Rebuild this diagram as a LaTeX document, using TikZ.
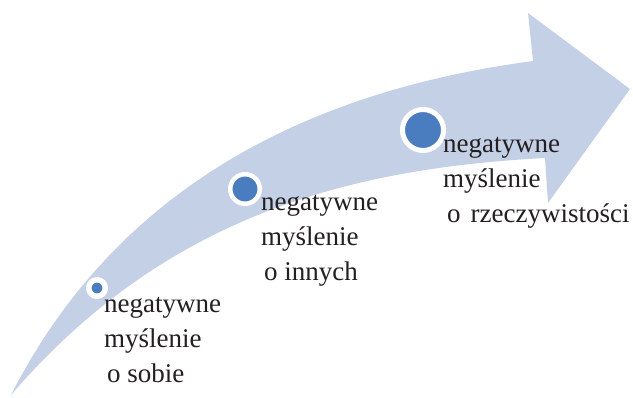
\documentclass[tikz,border=0pt]{standalone}
\usepackage{fontspec}
\setmainfont{Liberation Serif}
\definecolor{band}{HTML}{C4D0E6}
\definecolor{dotblue}{HTML}{4A7DBF}
\definecolor{ink}{HTML}{231F20}
\newcommand\threelines[3]{\vtop{\baselineskip=35pt\hbox{#1}\hbox{#2}\hbox{#3}}}
\begin{document}
\begin{tikzpicture}[x=1pt,y=-1pt,
  ringdot/.style={circle,draw=white,fill=dotblue,inner sep=0pt},
  lbl/.style={anchor=base west,inner sep=0pt,text=ink,font=\fontsize{27}{35}\selectfont}]
\useasboundingbox (0,0) rectangle (633,397);
\fill[band] (11,395) .. controls (90,240) and (240,100) .. (533,61)
  -- (528,13) -- (630,89) -- (548,203) -- (545,158)
  .. controls (360,168) and (170,210) .. (11,395) -- cycle;
\node[ringdot,minimum size=16.5pt,line width=5.5pt] (c1) at (97,288) {};
\node[ringdot,minimum size=29.5pt,line width=4.5pt] (c2) at (245,189) {};
\node[ringdot,minimum size=41pt,line width=5pt] (c3) at (423,130) {};
\node[lbl] (t1) at (104,312) {\threelines{negatywne}{myślenie}{\hspace{3pt}o sobie}};
\node[lbl] (t2) at (261,210) {\threelines{negatywne}{myślenie}{\hspace{3pt}o innych}};
\node[lbl] (t3) at (443,152) {\threelines{negatywne}{myślenie}{\hspace{4pt}o\hspace{10pt}rzeczywistości}};
\end{tikzpicture}
\end{document}
